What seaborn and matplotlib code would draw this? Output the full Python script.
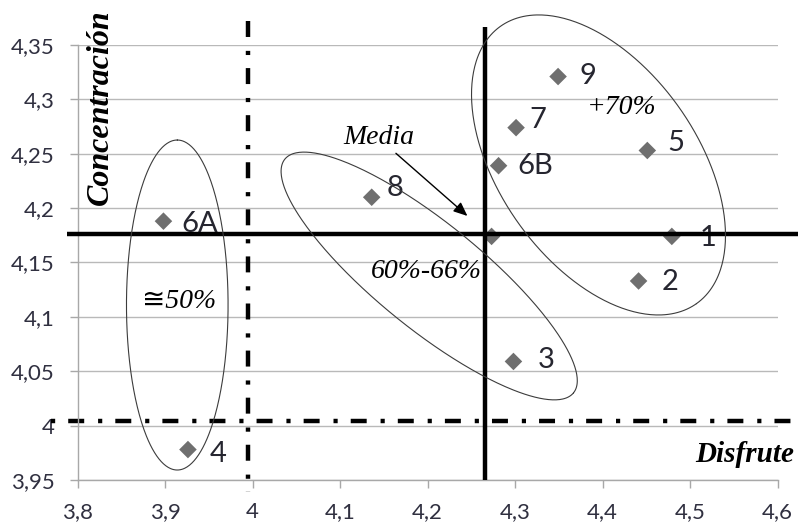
import numpy as np
import pandas as pd
import matplotlib
matplotlib.use("Agg")
import matplotlib.pyplot as plt
import seaborn as sns

# ---- data ----
labels = ["1", "2", "3", "4", "5", "6A", "6B", "7", "8", "9", ""]
disfrute = [4.479, 4.441, 4.298, 3.926, 4.451, 3.898, 4.281, 4.301, 4.136, 4.349, 4.273]
concentracion = [4.174, 4.133, 4.059, 3.978, 4.253, 4.188, 4.239, 4.274, 4.210, 4.321, 4.174]

mean_x = 4.265
mean_y = 4.176
ref_x = 3.995
ref_y = 4.004

x_ticks = [3.8, 3.9, 4.0, 4.1, 4.2, 4.3, 4.4, 4.5, 4.6]
x_ticklabels = ["3,8", "3,9", "4", "4,1", "4,2", "4,3", "4,4", "4,5", "4,6"]
y_ticks = [3.95, 4.0, 4.05, 4.1, 4.15, 4.2, 4.25, 4.3, 4.35]
y_ticklabels = ["3,95", "4", "4,05", "4,1", "4,15", "4,2", "4,25", "4,3", "4,35"]

# label offsets (pixels) for point labels
label_offsets = {"1": (28, -2), "2": (23, -1), "3": (24, 1), "4": (22, -4),
                 "5": (20, 7), "6A": (18, -3), "6B": (19, 0), "7": (13, 8),
                 "8": (15, 9), "9": (21, 1)}

df = pd.DataFrame({"Disfrute": disfrute, "Concentracion": concentracion, "label": labels})

sns.set_theme(style="white")
plt.rcParams["lines.scale_dashes"] = False

fig = plt.figure(figsize=(7.98, 5.22), dpi=100)
ax = fig.add_axes([77.7 / 798, 42 / 522, 700 / 798, 435 / 522])
ax.set_xlim(3.8, 4.6)
ax.set_ylim(3.95, 4.35)

grid_c = "#b9b9b9"
for yv in y_ticks:
    ax.axhline(yv, color=grid_c, lw=1.0, zorder=0)

sns.scatterplot(data=df, x="Disfrute", y="Concentracion", marker="D", s=80,
                color="#6f6f6f", edgecolor="none", linewidth=0, ax=ax, zorder=3,
                legend=False)

for lab, xv, yv in zip(labels, disfrute, concentracion):
    if not lab:
        continue
    dx, dy = label_offsets[lab]
    ax.annotate(lab, (xv, yv), xytext=(dx * 0.72, dy * 0.72), textcoords="offset points",
                ha="left", va="center", fontsize=21, family="Lato", color="#262630",
                zorder=4)

# pixel scale helpers
ppx = ax.bbox.width / (4.6 - 3.8)
ppy = ax.bbox.height / (4.35 - 3.95)

# reference lines (dash-dot)
dd = (0, (11.5, 10, 3, 9.4))
ax.plot([3.769, 4.63], [ref_y, ref_y], color="black", lw=3.2,
        linestyle=(21.5, (11.5, 10, 3, 9.4)), clip_on=False, zorder=2,
        dash_capstyle="butt")
ax.plot([ref_x, ref_x], [4.372, 3.939], color="black", lw=3.2,
        linestyle=dd, clip_on=False, zorder=2, dash_capstyle="butt")

# mean lines
ax.plot([3.788, 4.63], [mean_y, mean_y], color="black", lw=3.2, clip_on=False, zorder=5,
        solid_capstyle="butt")
ax.plot([mean_x, mean_x], [4.3666, 3.95], color="black", lw=3.2, clip_on=False, zorder=5,
        solid_capstyle="butt")

# ellipses (center in data, semi-axes in px, angle in degrees)
def ellipse(cx, cy, a_px, b_px, ang):
    t = np.linspace(0, 2 * np.pi, 400)
    th = np.deg2rad(ang)
    px = a_px * np.cos(t) * np.cos(th) - b_px * np.sin(t) * np.sin(th)
    py = a_px * np.cos(t) * np.sin(th) + b_px * np.sin(t) * np.cos(th)
    ax.plot(cx + px / ppx, cy + py / ppy, color="#3c3c3c", lw=0.8, clip_on=False, zorder=6)

ellipse(3.9138, 4.1109, 165, 50.8, 90)
ellipse(4.2017, 4.1376, 185.7, 52.9, -39)
ellipse(4.3952, 4.2397, 169.8, 99, -54.8)

# annotations
serif = ["Liberation Serif", "DejaVu Sans"]
ax.annotate("", xy=(4.2454, 4.1928), xytext=(4.1637, 4.2504),
            arrowprops=dict(arrowstyle="-|>,head_length=0.7,head_width=0.3", color="black",
                            lw=1.0, shrinkA=0, shrinkB=0), zorder=6)
ax.text(4.1447, 4.2654, "Media", fontsize=20, style="italic", family=serif,
        ha="center", va="center", color="black", zorder=7)
ax.text(4.4218, 4.2921, "+70%", fontsize=20, style="italic", family=serif,
        ha="center", va="center", color="black", zorder=7)
ax.text(4.1989, 4.1415, "60%-66%", fontsize=20, style="italic", family=serif,
        ha="center", va="center", color="black", zorder=7)
ax.text(3.9155, 4.1137, "\u224550%", fontsize=20, style="italic", family=serif,
        ha="center", va="center", color="black", zorder=7)
ax.text(3.8254, 4.293, "Concentración", fontsize=23, style="italic", weight="bold",
        family=serif, rotation=90, ha="center", va="center", color="black", zorder=7)
ax.text(4.619, 3.973, "Disfrute", fontsize=21, style="italic", weight="bold",
        family=serif, ha="right", va="center", color="black", zorder=7)

# axes styling
for s in ["top", "right"]:
    ax.spines[s].set_visible(False)
for s in ["left", "bottom"]:
    ax.spines[s].set_color("#a8a8a8")
    ax.spines[s].set_linewidth(1.0)
ax.set_xticks(x_ticks)
ax.set_xticklabels(x_ticklabels)
ax.set_yticks(y_ticks)
ax.set_yticklabels(y_ticklabels)
ax.tick_params(axis="both", which="major", length=5.8, width=1.0, color="#a8a8a8",
               labelsize=16, labelcolor="#303040", direction="out")
ax.tick_params(axis="y", pad=11)
ax.tick_params(axis="x", pad=10)
ax.xaxis.set_ticks_position("bottom")
ax.yaxis.set_ticks_position("left")
for lab in ax.get_xticklabels() + ax.get_yticklabels():
    lab.set_family("Lato")
ax.set_xlabel("")
ax.set_ylabel("")
ax.grid(False)

fig.savefig("out.png", dpi=100)
